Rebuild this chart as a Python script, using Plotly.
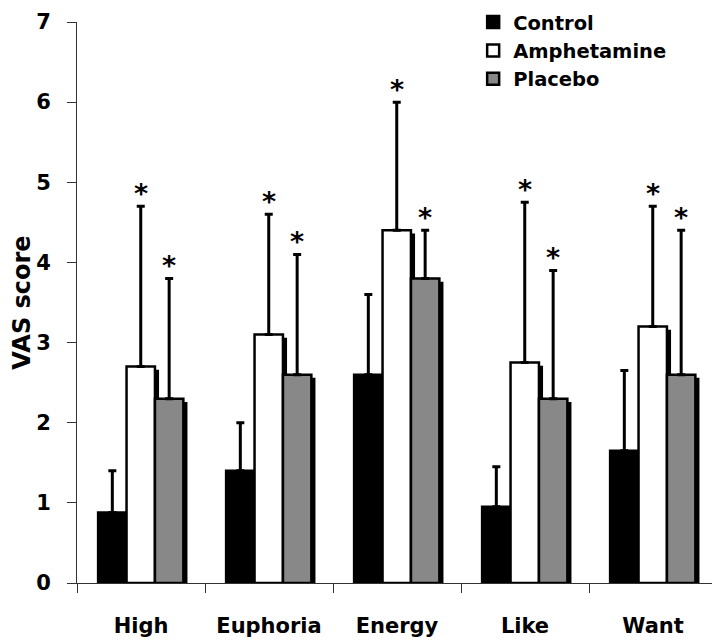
import plotly.graph_objects as go

categories = ["High", "Euphoria", "Energy", "Like", "Want"]
series_names = ["Control", "Amphetamine", "Placebo"]
control = [0.88, 1.4, 2.6, 0.95, 1.65]
control_err = [0.52, 0.6, 1.0, 0.5, 1.0]
amphetamine = [2.7, 3.1, 4.4, 2.75, 3.2]
amphetamine_err = [2.0, 1.5, 1.6, 2.0, 1.5]
placebo = [2.3, 2.6, 3.8, 2.3, 2.6]
placebo_err = [1.5, 1.5, 0.6, 1.6, 1.8]
significant = [False, True, True]  # asterisk above amphetamine and placebo
y_ticks = [0, 1, 2, 3, 4, 5, 6, 7]

values = [control, amphetamine, placebo]
errors = [control_err, amphetamine_err, placebo_err]
fills = ["#000000", "#ffffff", "#888888"]

W = 0.222
offsets = [-0.335, -0.113, 0.109]
SH_DX = 0.032
SH_DY = 0.04

FONT = "DejaVu Sans"
fig = go.Figure()
for k in range(3):
    # drop shadow
    fig.add_trace(go.Bar(
        x=categories, y=values[k], base=[-SH_DY] * len(categories),
        width=W, offset=offsets[k] + SH_DX,
        marker=dict(color="#000000", line=dict(width=0)),
        showlegend=False, hoverinfo="skip",
    ))
    fig.add_trace(go.Bar(
        x=categories, y=values[k], name=series_names[k],
        width=W, offset=offsets[k],
        marker=dict(color=fills[k], line=dict(color="#000000", width=2.5)),
        error_y=dict(type="data", symmetric=False, array=errors[k],
                     arrayminus=[0] * len(categories),
                     color="#000000", thickness=3, width=4),
    ))

annotations = []
for k in range(3):
    if not significant[k]:
        continue
    for i in range(len(categories)):
        annotations.append(dict(
            x=i + offsets[k] + W / 2, y=values[k][i] + errors[k][i],
            xref="x", yref="y", text="<b>*</b>", showarrow=False,
            yanchor="bottom", yshift=-5,
            font=dict(family="DejaVu Sans", size=27, color="#000000"),
        ))

fig.update_layout(
    width=712, height=636,
    margin=dict(l=69, r=3, t=14, b=61, autoexpand=False),
    paper_bgcolor="#ffffff", plot_bgcolor="#ffffff",
    barmode="overlay",
    font=dict(family=FONT, color="#000000"),
    annotations=annotations,
    legend=dict(
        x=0.619, y=1.034, xanchor="left", yanchor="top",
        font=dict(family=FONT, size=19.5, color="#000000", weight="bold"),
        bgcolor="rgba(0,0,0,0)", tracegroupgap=0,
    ),
    xaxis=dict(
        type="category", range=[-0.5, 4.5], tickson="boundaries",
        ticks="outside", ticklen=9, tickcolor="#333333", tickwidth=1,
        showline=True, linecolor="#333333", linewidth=1,
        showgrid=False, zeroline=False, automargin=False, tickangle=0,
        ticklabelstandoff=24,
        tickfont=dict(family=FONT, size=21, color="#000000", weight="bold"),
    ),
    yaxis=dict(
        range=[0, 7], tickvals=y_ticks,
        ticks="outside", ticklen=9, tickcolor="#333333", tickwidth=1,
        showline=True, linecolor="#333333", linewidth=1,
        showgrid=False, zeroline=False, automargin=False,
        ticklabelstandoff=12,
        tickfont=dict(family=FONT, size=21, color="#000000", weight="bold"),
        title=dict(text="VAS score", standoff=4,
                   font=dict(family=FONT, size=24, color="#000000", weight="bold")),
    ),
)

fig.write_html("out.html")
